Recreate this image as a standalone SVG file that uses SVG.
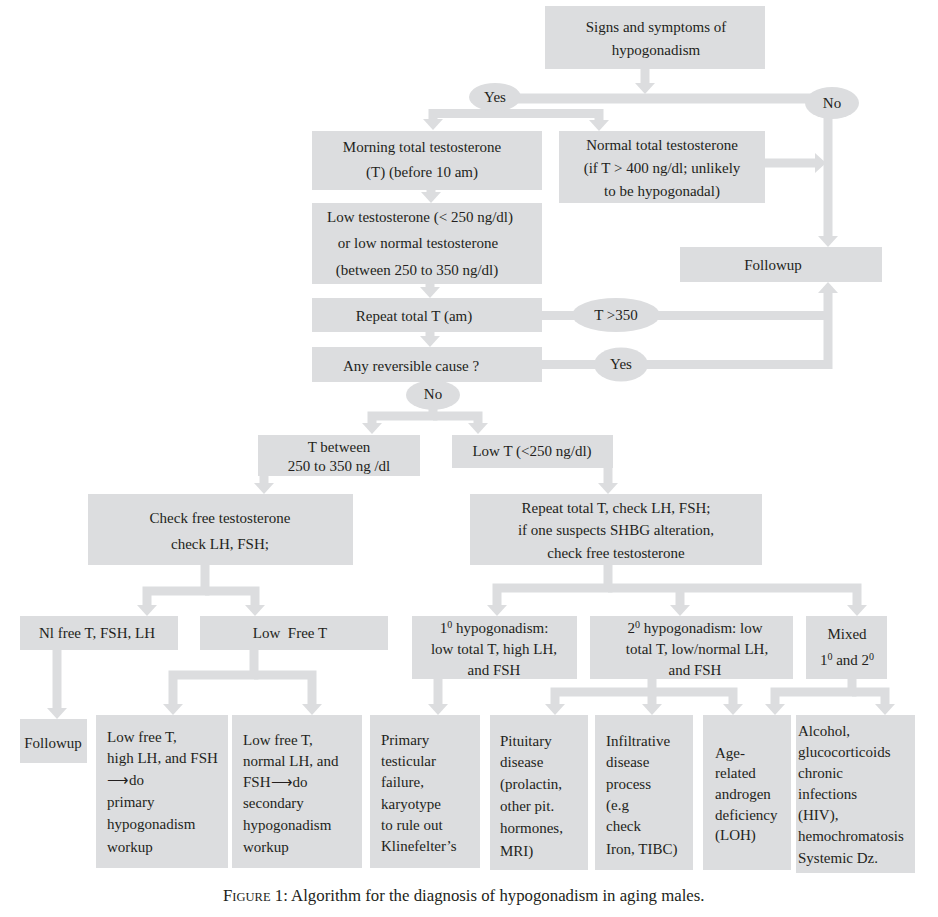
<svg xmlns="http://www.w3.org/2000/svg" width="938" height="917" viewBox="0 0 938 917">
<style>
.b{fill:#dcdddf}
.t{font-family:"Liberation Serif","Times New Roman",serif;font-size:15px;fill:#231f20}
.c{text-anchor:middle}
.cn{fill:none;stroke:#dcdddf;stroke-width:9;stroke-linejoin:miter;stroke-linecap:butt}
.ar{marker-end:url(#ah)}
.cap{font-family:"Liberation Serif","Times New Roman",serif;font-size:16.8px;fill:#231f20}
</style>
<defs>
<marker id="ah" markerUnits="userSpaceOnUse" viewBox="-1 -10 11 20" refX="0" refY="0" markerWidth="11" markerHeight="20" orient="auto">
<path d="M-1,-10 L10,0 L-1,10 Z" fill="#dcdddf"/>
</marker>
</defs>
<rect width="938" height="917" fill="#ffffff"/>
<g id="connectors">
<path class="cn ar" d="M645 69 V84"/>
<path class="cn" d="M495 98.5 H832" style="stroke-width:10"/>
<path class="cn ar" d="M495 113.5 H433 V120"/>
<path class="cn ar" d="M495 113.5 H599 V121"/>
<path class="cn ar" d="M765 163 H816"/>
<path class="cn ar" d="M828 115 V237"/>
<path class="cn ar" d="M431 190 V193"/>
<path class="cn ar" d="M430 284 V288"/>
<path class="cn ar" d="M430 332 V337"/>
<path class="cn" d="M542 315.5 H828"/>
<path class="cn ar" d="M542 364.5 H828 V292"/>
<path class="cn ar" d="M433 405 V416 H372 V424"/>
<path class="cn ar" d="M433 416 H478 V424"/>
<path class="cn ar" d="M264 476 V484"/>
<path class="cn ar" d="M608 468 V484"/>
<path class="cn ar" d="M205 565 V591 H147 V606"/>
<path class="cn ar" d="M205 591 H255 V606"/>
<path class="cn ar" d="M57 650 V709"/>
<path class="cn ar" d="M254 650 V675 H173 V705"/>
<path class="cn ar" d="M254 675 H312 V705"/>
<path class="cn ar" d="M608 565 V588 H497 V606"/>
<path class="cn ar" d="M608 588 H857 V606"/>
<path class="cn ar" d="M680 588 V606"/>
<path class="cn ar" d="M438 679 V705"/>
<path class="cn ar" d="M652 679 V692 H555 V705"/>
<path class="cn ar" d="M652 692 H733 V705"/>
<path class="cn ar" d="M652 692 V705"/>
<path class="cn ar" d="M852 679 V692 H775 V705"/>
<path class="cn ar" d="M852 692 H885 V705"/>
</g>
<g id="signs"><rect class="b" x="545" y="6" width="220" height="63"/>
<text class="t c" x="656" y="32">Signs and symptoms of</text>
<text class="t c" x="656" y="55">hypogonadism</text></g>
<g id="yes1"><ellipse class="b" cx="495" cy="97" rx="26" ry="14"/><text class="t c" x="495" y="102">Yes</text></g>
<g id="no1"><ellipse class="b" cx="832" cy="103" rx="27" ry="16"/><text class="t c" x="832" y="108">No</text></g>
<g id="morning"><rect class="b" x="312" y="131" width="230" height="59"/>
<text class="t c" x="422" y="152">Morning total testosterone</text>
<text class="t c" x="422" y="177">(T) (before 10 am)</text></g>
<g id="normal"><rect class="b" x="559" y="131" width="206" height="72"/>
<text class="t c" x="662" y="150">Normal total testosterone</text>
<text class="t c" x="662" y="173">(if T &gt; 400 ng/dl; unlikely</text>
<text class="t c" x="662" y="196">to be hypogonadal)</text></g>
<g id="followup1"><rect class="b" x="680" y="247" width="202" height="35"/>
<text class="t c" x="773" y="270">Followup</text></g>
<g id="lowtest"><rect class="b" x="312" y="203" width="230" height="81"/>
<text class="t c" x="420" y="222">Low testosterone (&lt; 250 ng/dl)</text>
<text class="t c" x="418" y="248">or low normal testosterone</text>
<text class="t c" x="417" y="275">(between 250 to 350 ng/dl)</text></g>
<g id="repeat1"><rect class="b" x="312" y="298" width="230" height="34"/>
<text class="t c" x="414" y="321">Repeat total T (am)</text></g>
<g id="t350"><ellipse class="b" cx="616" cy="315" rx="44" ry="17"/><text class="t c" x="616" y="320">T &gt;350</text></g>
<g id="reversible"><rect class="b" x="312" y="347" width="230" height="35"/>
<text class="t c" x="411" y="371">Any reversible cause ?</text></g>
<g id="yes2"><ellipse class="b" cx="621" cy="364.5" rx="27" ry="17"/><text class="t c" x="621" y="369">Yes</text></g>
<g id="no2"><ellipse class="b" cx="433" cy="395" rx="27" ry="15"/><text class="t c" x="433" y="399">No</text></g>
<g id="tbetween"><rect class="b" x="258" y="435" width="162" height="41"/>
<text class="t c" x="339" y="452">T between</text>
<text class="t c" x="339" y="471">250 to 350 ng /dl</text></g>
<g id="lowt"><rect class="b" x="452" y="435" width="161" height="33"/>
<text class="t c" x="532" y="456">Low T (&lt;250 ng/dl)</text></g>
<g id="checkfree"><rect class="b" x="88" y="494" width="265" height="71"/>
<text class="t c" x="220" y="523">Check free testosterone</text>
<text class="t c" x="220" y="549">check LH, FSH;</text></g>
<g id="repeat2"><rect class="b" x="470" y="494" width="292" height="71"/>
<text class="t c" x="616" y="513">Repeat total T, check LH, FSH;</text>
<text class="t c" x="616" y="535">if one suspects SHBG alteration,</text>
<text class="t c" x="616" y="558">check free testosterone</text></g>
<g id="nlfree"><rect class="b" x="20" y="616" width="158" height="34"/>
<text class="t c" x="97" y="638">Nl free T, FSH, LH</text></g>
<g id="lowfree"><rect class="b" x="200" y="616" width="188" height="34"/>
<text class="t c" x="290" y="638" xml:space="preserve">Low  Free T</text></g>
<g id="primaryhypo"><rect class="b" x="412" y="616" width="165" height="63"/>
<text class="t c" x="494" y="633">1<tspan font-size="10" baseline-shift="super">0</tspan> hypogonadism:</text>
<text class="t c" x="494" y="654">low total T, high LH,</text>
<text class="t c" x="494" y="675">and FSH</text></g>
<g id="secondaryhypo"><rect class="b" x="590" y="616" width="203" height="63"/>
<text class="t c" x="695" y="633">2<tspan font-size="10" baseline-shift="super">0</tspan> hypogonadism: low</text>
<text class="t c" x="697" y="654">total T, low/normal LH,</text>
<text class="t c" x="695" y="675">and FSH</text></g>
<g id="mixed"><rect class="b" x="806" y="616" width="81" height="63"/>
<text class="t c" x="847" y="639">Mixed</text>
<text class="t c" x="847" y="665">1<tspan font-size="10" baseline-shift="super">0</tspan> and 2<tspan font-size="10" baseline-shift="super">0</tspan></text></g>
<g id="followup2"><rect class="b" x="20" y="719" width="67" height="44"/>
<text class="t c" x="53" y="748">Followup</text></g>
<g id="lowfreehigh"><rect class="b" x="96" y="715" width="132" height="153"/>
<text class="t" x="107" y="742">Low free T,</text>
<text class="t" x="107" y="763">high LH, and FSH</text>
<text class="t" x="107" y="785">⟶do</text>
<text class="t" x="107" y="807">primary</text>
<text class="t" x="107" y="829">hypogonadism</text>
<text class="t" x="107" y="852">workup</text></g>
<g id="lowfreenormal"><rect class="b" x="232" y="715" width="130" height="153"/>
<text class="t" x="243" y="745">Low free T,</text>
<text class="t" x="243" y="766">normal LH, and</text>
<text class="t" x="243" y="787">FSH⟶do</text>
<text class="t" x="243" y="808">secondary</text>
<text class="t" x="243" y="830">hypogonadism</text>
<text class="t" x="243" y="852">workup</text></g>
<g id="primaryfail"><rect class="b" x="370" y="715" width="110" height="153"/>
<text class="t" x="381" y="745">Primary</text>
<text class="t" x="381" y="766">testicular</text>
<text class="t" x="381" y="787">failure,</text>
<text class="t" x="381" y="809">karyotype</text>
<text class="t" x="381" y="830">to rule out</text>
<text class="t" x="381" y="851">Klinefelter’s</text></g>
<g id="pituitary"><rect class="b" x="490" y="715" width="98" height="155"/>
<text class="t" x="500" y="746">Pituitary</text>
<text class="t" x="500" y="767">disease</text>
<text class="t" x="500" y="789">(prolactin,</text>
<text class="t" x="500" y="811">other pit.</text>
<text class="t" x="500" y="833">hormones,</text>
<text class="t" x="500" y="856">MRI)</text></g>
<g id="infiltrative"><rect class="b" x="595" y="715" width="98" height="155"/>
<text class="t" x="606" y="746">Infiltrative</text>
<text class="t" x="606" y="767">disease</text>
<text class="t" x="606" y="789">process</text>
<text class="t" x="606" y="810">(e.g</text>
<text class="t" x="606" y="831">check</text>
<text class="t" x="606" y="854">Iron, TIBC)</text></g>
<g id="agerelated"><rect class="b" x="703" y="715" width="88" height="155"/>
<text class="t" x="715" y="758">Age-</text>
<text class="t" x="715" y="778">related</text>
<text class="t" x="715" y="799">androgen</text>
<text class="t" x="715" y="820">deficiency</text>
<text class="t" x="715" y="840">(LOH)</text></g>
<g id="alcohol"><rect class="b" x="796" y="715" width="119" height="158"/>
<text class="t" x="798" y="736">Alcohol,</text>
<text class="t" x="798" y="757">glucocorticoids</text>
<text class="t" x="798" y="778">chronic</text>
<text class="t" x="798" y="799">infections</text>
<text class="t" x="798" y="820">(HIV),</text>
<text class="t" x="798" y="841">hemochromatosis</text>
<text class="t" x="798" y="863">Systemic Dz.</text></g>
<text class="cap" x="223" y="901">F<tspan font-size="12.5px">IGURE</tspan> 1: Algorithm for the diagnosis of hypogonadism in aging males.</text>
</svg>
